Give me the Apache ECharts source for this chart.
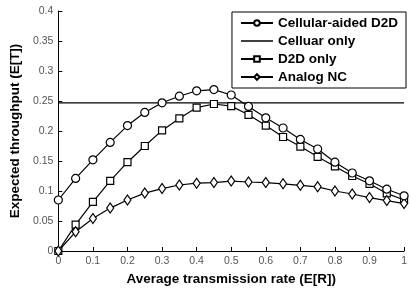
<!DOCTYPE html>
<html><head><meta charset="utf-8">
<script src="https://cdn.jsdelivr.net/npm/echarts@6/dist/echarts.min.js"></script>
<style>html,body{margin:0;padding:0;background:#fff}#c{width:410px;height:291px}</style>
</head><body><div id="c"></div>
<script>
const xValues = [0,0.05,0.1,0.15,0.2,0.25,0.3,0.35,0.4,0.45,0.5,0.55,0.6,0.65,0.7,0.75,0.8,0.85,0.9,0.95,1];
const cellularAided = [0.085,0.121,0.152,0.181,0.209,0.231,0.247,0.258,0.267,0.269,0.260,0.241,0.222,0.205,0.186,0.170,0.148,0.130,0.117,0.103,0.092];
const cellularOnlyX = [0,1];
const cellularOnly = [0.247,0.247];
const d2dOnly = [0,0.044,0.082,0.117,0.148,0.175,0.201,0.221,0.239,0.245,0.2415,0.227,0.209,0.190,0.174,0.157,0.141,0.125,0.112,0.096,0.085];
const analogNC = [0,0.032,0.054,0.0715,0.085,0.0965,0.104,0.110,0.113,0.114,0.1165,0.115,0.114,0.112,0.1095,0.107,0.100,0.095,0.089,0.084,0.079];
const seriesNames = ['Cellular-aided D2D','Celluar only','D2D only','Analog NC'];

const pair = (xs, ys) => xs.map((x,i)=>[x,ys[i]]);
const mk = {color:'#fff', borderColor:'#000', borderWidth:1.2};
const ls = {color:'#000', width:1.2};
const chart = echarts.init(document.getElementById('c'));
chart.setOption({
  animation:false,
  textStyle:{fontFamily:'Liberation Sans, Arial'},
  grid:{left:55, right:1, top:11, bottom:34},
  legend:{
    orient:'vertical', right:4, top:12, padding:[4,8,4,8],
    borderColor:'#000', borderWidth:1, backgroundColor:'#fff',
    itemWidth:32, itemHeight:7, itemGap:4,
    textStyle:{fontSize:13.5, fontWeight:'bold', color:'#000', fontFamily:'Liberation Sans, Arial'},
    data:[
      {name:seriesNames[0]},
      {name:seriesNames[1], icon:'path://M0,0H32V1.6H0Z', itemStyle:{color:'#000'}},
      {name:seriesNames[2]},
      {name:seriesNames[3]}
    ]
  },
  xAxis:{type:'value', min:0, max:1, interval:0.1,
    name:'Average transmission rate (E[R])', nameLocation:'middle', nameGap:21,
    nameTextStyle:{fontSize:13.5, fontWeight:'bold', color:'#000'},
    axisLine:{lineStyle:{color:'#000'}}, axisTick:{inside:true, length:4, lineStyle:{color:'#000'}},
    axisLabel:{color:'#555', fontSize:10.5, margin:5}, splitLine:{show:false}},
  yAxis:{type:'value', min:0, max:0.4, interval:0.05,
    name:'Expected throughput (E[T])', nameLocation:'middle', nameGap:31,
    nameTextStyle:{fontSize:13.5, fontWeight:'bold', color:'#000'},
    axisLine:{show:true, lineStyle:{color:'#000'}}, axisTick:{show:true, inside:true, length:4, lineStyle:{color:'#000'}},
    axisLabel:{color:'#555', fontSize:10.5, margin:5}, splitLine:{show:false}},
  series:[
    {name:seriesNames[0], type:'line', data:pair(xValues,cellularAided), symbol:'circle', symbolSize:8, itemStyle:mk, lineStyle:ls, z:4},
    {name:seriesNames[1], type:'line', data:pair(cellularOnlyX,cellularOnly), symbol:'none', showSymbol:false, itemStyle:{color:'#000'}, lineStyle:ls, z:2},
    {name:seriesNames[2], type:'line', data:pair(xValues,d2dOnly), symbol:'rect', symbolSize:7, itemStyle:mk, lineStyle:ls, z:3},
    {name:seriesNames[3], type:'line', data:pair(xValues,analogNC), symbol:'diamond', symbolSize:[7,10], itemStyle:mk, lineStyle:ls, z:3}
  ]
});
</script></body></html>
